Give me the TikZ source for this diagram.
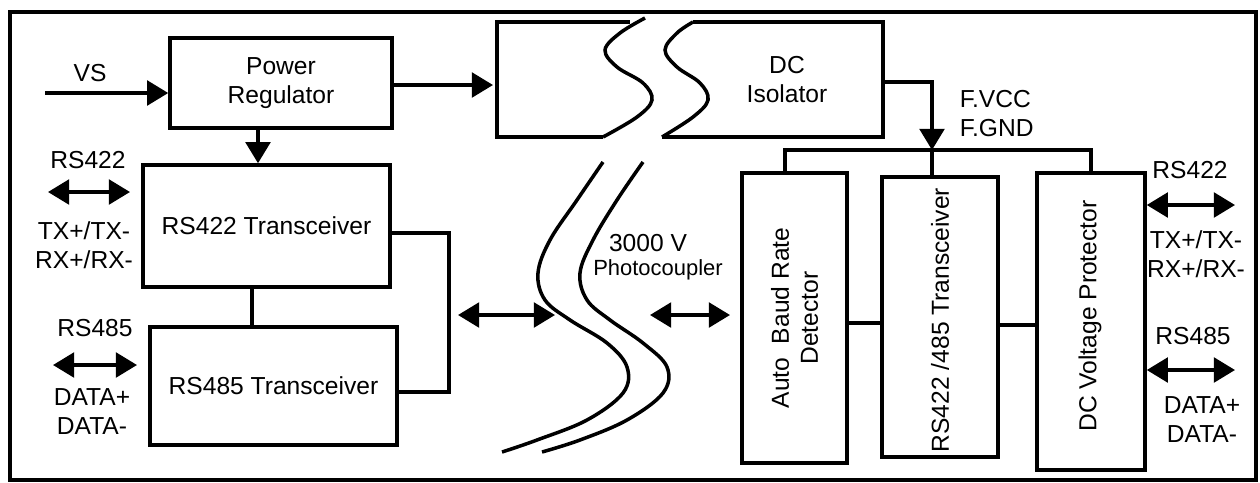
\documentclass[tikz,border=0pt]{standalone}
\usepackage{fontspec}
\setmainfont{Liberation Sans}
\usetikzlibrary{positioning, calc, arrows.meta}

\begin{document}
\begin{tikzpicture}[x=0.2mm, y=-0.2mm, line width=2pt,
    font=\fontsize{14}{16.5}\selectfont, >={Triangle[length=12pt,width=14pt]},
    box/.style={draw, inner sep=0pt, align=center},
    tag/.style={inner sep=0pt, align=center}]
  \useasboundingbox (0,0) rectangle (1260,482);
  % outer frame
  \draw (10,12) rectangle (1256,480);
  % left side: regulator and the two transceivers
  \node[box, minimum width=44.4mm, minimum height=18mm] (pwr) at (281,83) {Power\\Regulator};
  \node[box, minimum width=49.4mm, minimum height=24.4mm] (rs422) at (266.5,226) {RS422 Transceiver};
  \node[box, minimum width=49.4mm, minimum height=23.6mm] (rs485) at (273.5,386) {RS485 Transceiver};
  \coordinate (vs) at (45,93);
  \node[tag] (vslbl) at (90,73) {VS};
  \draw[->] (vs) -- (vs -| pwr.west);
  \draw[->] ([xshift=-4.6mm]pwr.south) -- ([xshift=-4.6mm]pwr.south |- rs422.north);
  \draw ([xshift=-2.9mm]rs422.south) -- ([xshift=-2.9mm]rs422.south |- rs485.north);
  \draw ([yshift=-1.4mm]rs422.east) -- ++(11.4mm,0) |- ([yshift=-1.2mm]rs485.east);
  % left bus labels
  \coordinate (l1a) at (48,192);
  \coordinate (l1b) at (130,192);
  \coordinate (l2a) at (53,365);
  \coordinate (l2b) at (137,365);
  \draw[<->] (l1a) -- (l1b);
  \draw[<->] (l2a) -- (l2b);
  \node[tag] (l422) at (88,160) {RS422};
  \node[tag] (ltx) at (84,245) {TX+/TX-\\RX+/RX-};
  \node[tag] (l485) at (95,328) {RS485};
  \node[tag] (ldata) at (92,412) {DATA+\\DATA-};
  % DC isolator, cut by the isolation barrier
  \draw (603,137) -- (497,137) -- (497,22) -- (630,22);
  \draw plot[smooth, tension=0.6] coordinates {(645,18) (620,33) (605,50) (617,67) (643,83) (652,100) (637,117) (603,137)};
  \draw (662,137) -- (883,137) -- (883,22) -- (693,22);
  \draw plot[smooth, tension=0.6] coordinates {(693,22) (677,33) (665,50) (677,67) (700,83) (708,100) (693,117) (662,137)};
  \node[tag] (iso) at (787,80) {DC\\Isolator};
  \coordinate (isoW) at (493,85);
  \coordinate (isoE) at (883,82);
  \draw[->] (pwr.east |- isoW) -- (isoW);
  % photocoupler barrier
  \draw plot[smooth, tension=0.6] coordinates {(603,162) (577,200) (550,240) (538,273) (545,300) (570,320) (607,343) (627,367) (623,393) (587,420) (537,440) (502,452)};
  \draw plot[smooth, tension=0.6] coordinates {(643,162) (617,200) (593,240) (580,273) (587,300) (610,320) (643,343) (667,367) (663,393) (627,420) (580,440) (542,452)};
  \node[tag] (kv) at (648,243) {3000 V};
  \node[tag, font=\fontsize{12.5}{15}\selectfont] (pc) at (658,270) {Photocoupler};
  \coordinate (m1a) at (458,315);
  \coordinate (m1b) at (555,315);
  \coordinate (m2a) at (650,315);
  \coordinate (m2b) at (730,315);
  \draw[<->] (m1a) -- (m1b);
  \draw[<->] (m2a) -- (m2b);
  % right side blocks
  \node[box, minimum width=21mm, minimum height=58mm] (abr) at (794.5,318) {};
  \node[box, minimum width=23.2mm, minimum height=56mm] (trx) at (940,317) {};
  \node[box, minimum width=21.6mm, minimum height=59.4mm] (dcp) at (1091,321.5) {};
  \node[tag, rotate=90] (abrtxt) at (abr) {Auto\ \ Baud Rate\\Detector};
  \node[tag, rotate=90] (trxtxt) at (940,320) {RS422 /485 Transceiver};
  \node[tag, rotate=90] (dcptxt) at (1090,316) {DC Voltage Protector};
  \draw ([yshift=-1mm]abr.east) -- ([yshift=-1mm]abr.east -| trx.west);
  \draw ([yshift=-1.6mm]trx.east) -- ([yshift=-1.6mm]trx.east -| dcp.west);
  % floating supply bus
  \coordinate (bus) at (932,150);
  \draw[->] (isoE) -| (bus);
  \draw ([xshift=-1.9mm]abr.north) |- (bus) -| (dcp.north);
  \draw (bus) -- (bus |- trx.north);
  \node[tag, align=left, anchor=west] (fpwr) at (958,114) {F.VCC\\F.GND};
  % right bus labels
  \coordinate (r1) at (1235,205);
  \coordinate (r2) at (1235,370);
  \draw[<->] (dcp.east |- r1) -- (r1);
  \draw[<->] (dcp.east |- r2) -- (r2);
  \node[tag] (r422) at (1190,170) {RS422};
  \node[tag] (rtx) at (1196,254) {TX+/TX-\\RX+/RX-};
  \node[tag] (r485) at (1193,336) {RS485};
  \node[tag] (rdata) at (1202,420) {DATA+\\DATA-};
\end{tikzpicture}
\end{document}
